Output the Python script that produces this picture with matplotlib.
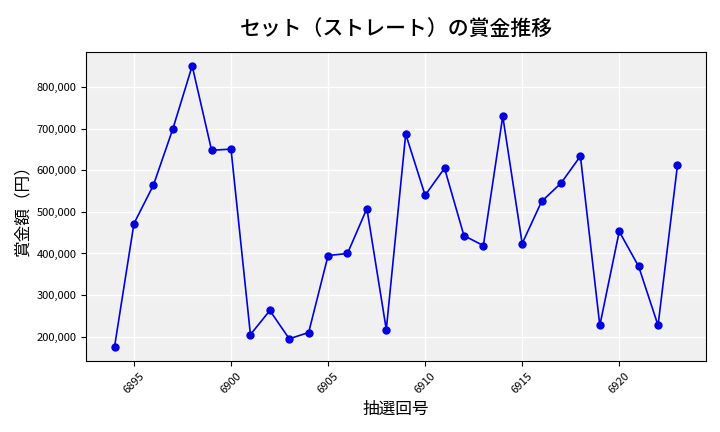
import matplotlib
matplotlib.use("Agg")
import matplotlib.pyplot as plt
from matplotlib.ticker import FuncFormatter

plt.rcParams['font.family'] = ['Noto Sans CJK JP', 'DejaVu Sans']

draws = list(range(6894, 6924))
prizes = [176000, 472000, 564000, 699000, 851000, 648000, 651000, 205000, 263000, 195000,
          210000, 395000, 400000, 508000, 217000, 687000, 540000, 605000, 443000, 419000,
          730000, 424000, 525000, 569000, 634000, 227000, 453000, 369000, 227000, 612000]

fig, ax = plt.subplots(figsize=(7.2, 4.32), dpi=100)
ax.set_facecolor('#f0f0f0')
ax.grid(True, color='white', linewidth=1)
ax.set_axisbelow(True)
ax.plot(draws, prizes, color='#0000dd', marker='o', markersize=5, linewidth=1.2)
ax.set_title('セット（ストレート）の賞金推移', fontsize=15, fontweight='medium', pad=12)
ax.set_xlabel('抽選回号', fontsize=12)
ax.set_ylabel('賞金額（円）', fontsize=12)
ax.set_xticks([6895, 6900, 6905, 6910, 6915, 6920])
ax.tick_params(axis='x', labelrotation=45, labelsize=8)
ax.tick_params(axis='y', labelsize=8)
ax.yaxis.set_major_formatter(FuncFormatter(lambda v, p: f'{int(v):,}'))
fig.subplots_adjust(left=0.12, right=0.98, top=0.88, bottom=0.165)
fig.savefig('out.png')
